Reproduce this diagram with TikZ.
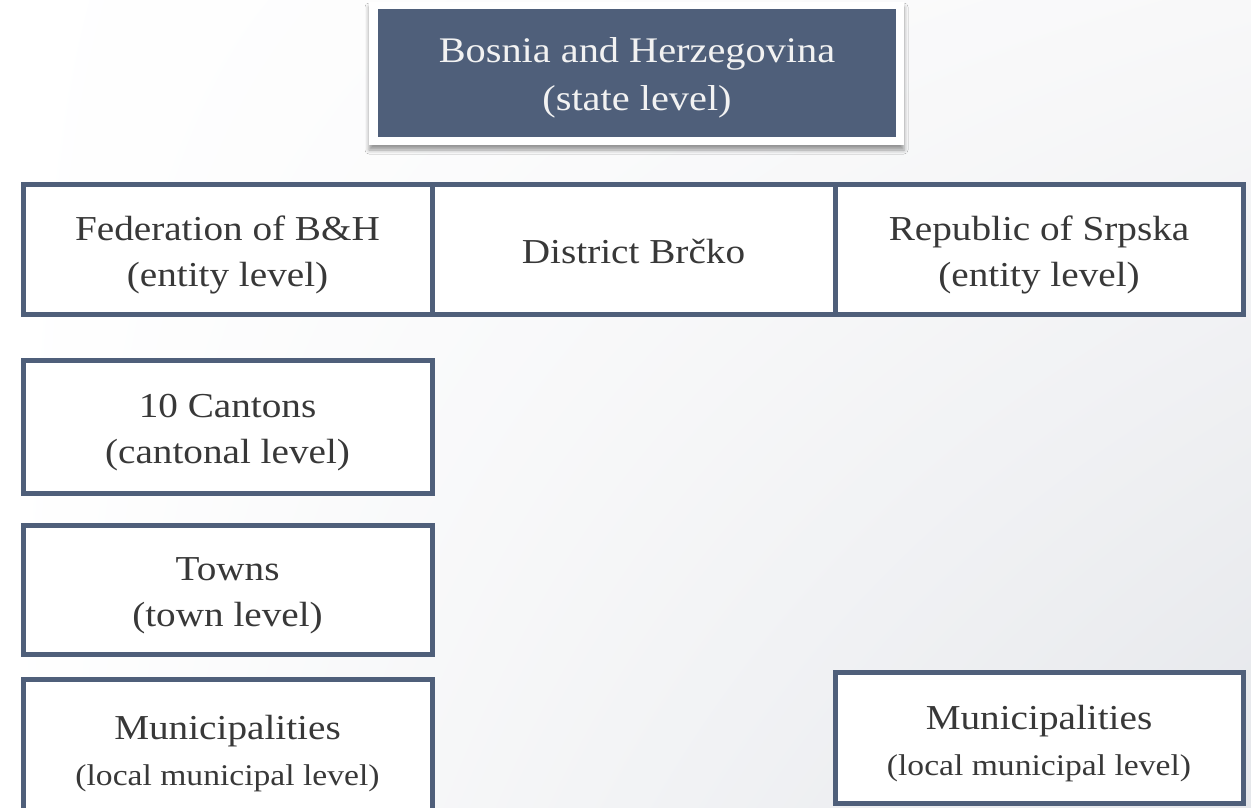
\documentclass[tikz,border=0pt]{standalone}
\usepackage{fontspec}
\setmainfont{Liberation Serif}[FakeStretch=1.12]
\usetikzlibrary{shadows.blur,shadings}
\definecolor{boxblue}{HTML}{4F5F7A}
\definecolor{txtgray}{HTML}{383838}
\definecolor{bgshade}{HTML}{E5E7EB}
\definecolor{bgmid}{HTML}{F8F8F9}
\newcommand\lineup[1]{\rule{0pt}{#1}}
\begin{document}
\begin{tikzpicture}[x=1pt,y=-1pt,
  lvlbox/.style={draw=boxblue, line width=5pt, fill=white, inner sep=0pt,
     align=center, text=txtgray, font=\fontsize{35}{46}\selectfont}]
\useasboundingbox (0,0) rectangle (1251,807);
\shade[upper left=white, upper right=bgmid, lower left=white, lower right=bgshade]
  (0,0) rectangle (1251,807);
% state level
\node[fill=white, minimum width=535pt, minimum height=143pt, inner sep=0pt,
  blur shadow={shadow xshift=0pt, shadow yshift=-5pt, shadow blur radius=4pt, shadow opacity=40}]
  (frame) at (636.5,73.5) {};
\node[fill=boxblue, minimum width=518pt, minimum height=128pt, inner sep=0pt,
  align=center, text=white!95!black, font=\fontsize{36}{48}\selectfont]
  (state) at (637,73) {\lineup{34pt}Bosnia and Herzegovina\\(state level)};
% entity row
\node[lvlbox, minimum width=409pt, minimum height=130pt] (fed) at (227.5,249)
  {\lineup{36pt}Federation of B\&H\\(entity level)};
\node[lvlbox, minimum width=403pt, minimum height=130pt] (brcko) at (633.5,249)
  {\lineup{30pt}District Brčko};
\node[lvlbox, minimum width=408pt, minimum height=130pt] (rs) at (1039,249)
  {\lineup{36pt}Republic of Srpska\\(entity level)};
% federation sub levels
\node[lvlbox, minimum width=409pt, minimum height=133pt] (cant) at (227.5,426.5)
  {\lineup{36pt}10 Cantons\\(cantonal level)};
\node[lvlbox, minimum width=409pt, minimum height=129pt] (towns) at (227.5,589.5)
  {\lineup{36pt}Towns\\(town level)};
\node[lvlbox, minimum width=409pt, minimum height=140pt] (munf) at (227.5,749)
  {\lineup{34pt}Municipalities\\{\fontsize{30}{40}\selectfont(local municipal level)}};
\node[lvlbox, minimum width=408pt, minimum height=131pt] (munrs) at (1039,737.5)
  {\lineup{37pt}Municipalities\\{\fontsize{30}{40}\selectfont(local municipal level)}};
\end{tikzpicture}
\end{document}
